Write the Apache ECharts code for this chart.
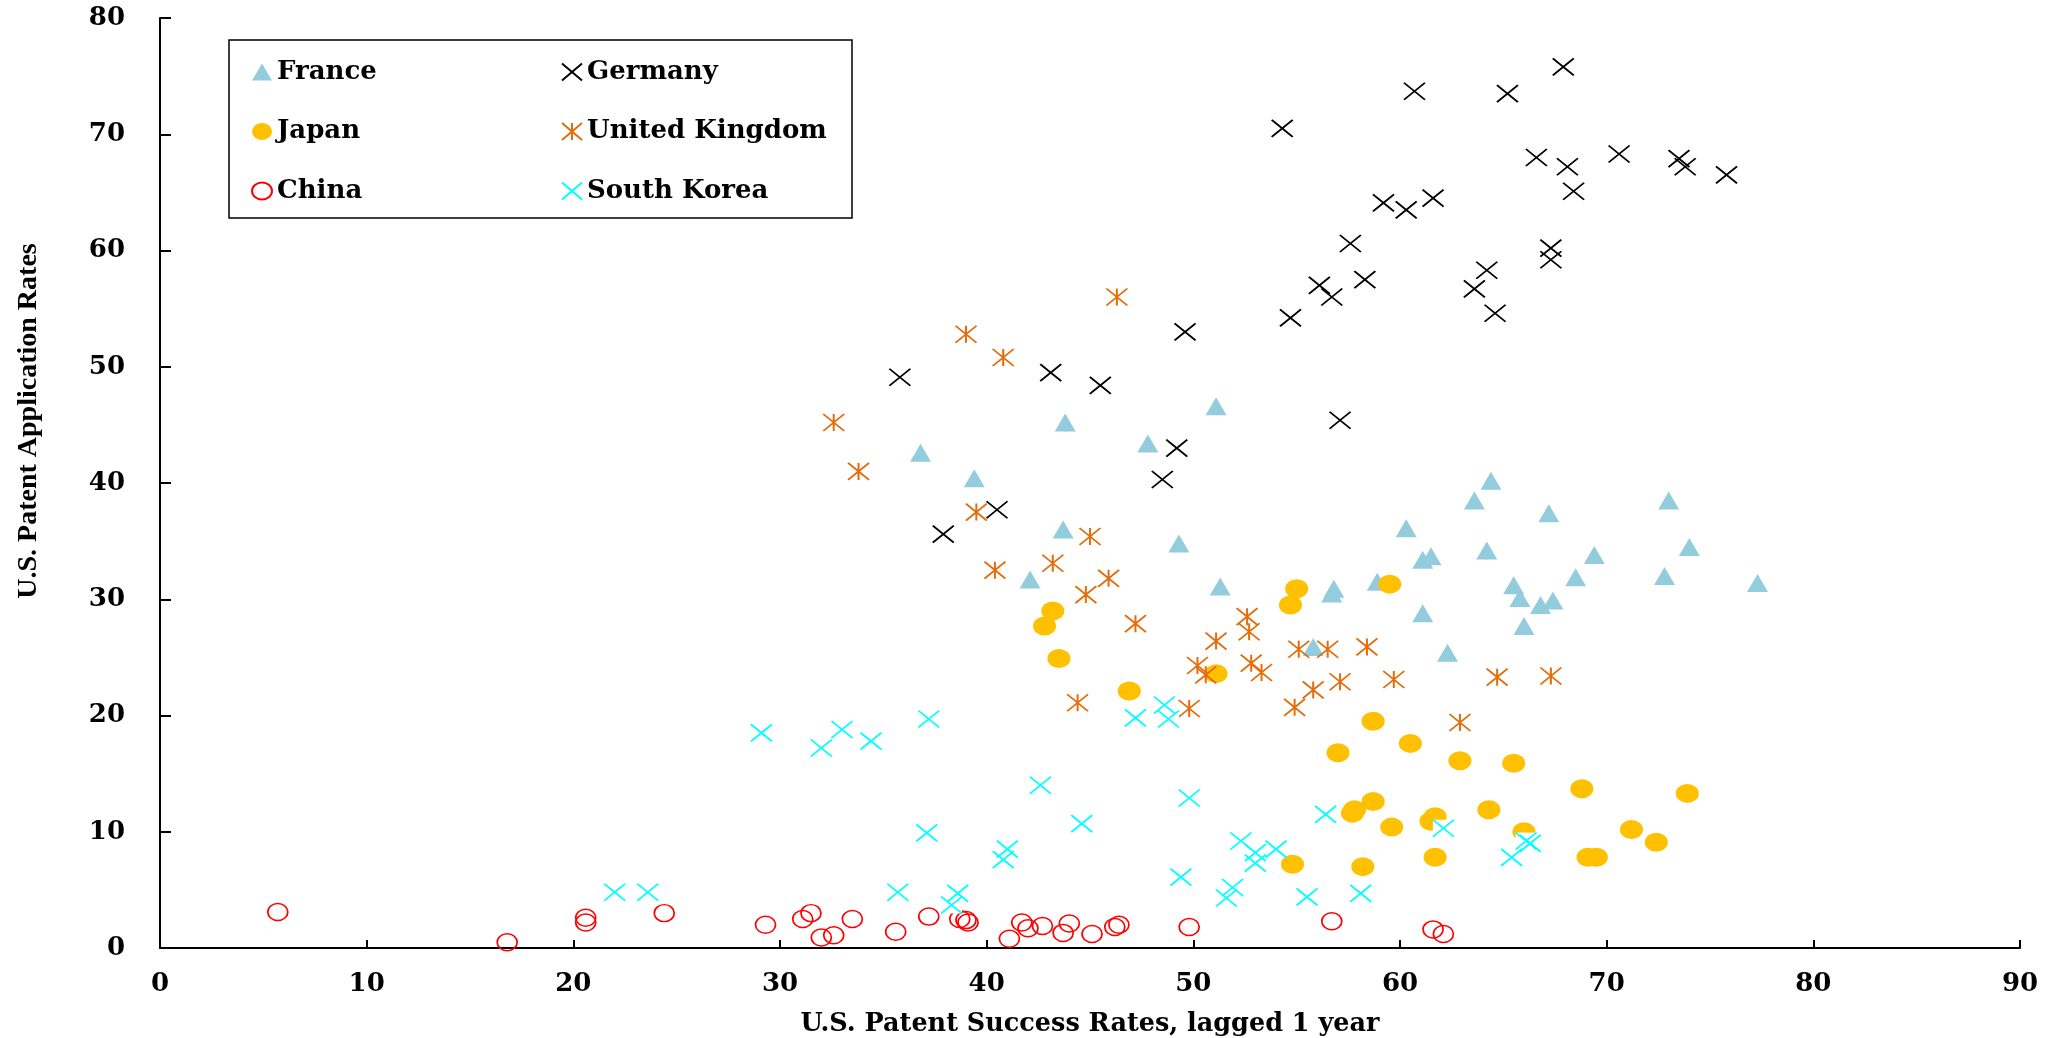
<!DOCTYPE html>
<html>
<head>
<meta charset="utf-8">
<title>U.S. Patent Application vs Success Rates</title>
<script src="https://cdn.jsdelivr.net/npm/echarts@6/dist/echarts.min.js"></script>
<style>
  html, body { margin: 0; padding: 0; background: #fff; }
  #chart { width: 2050px; height: 1038px; }
</style>
</head>
<body>
<div id="chart"></div>
<script>
// Axis ticks
const xTicks = { min: 0, max: 90, step: 10 };
const yTicks = { min: 0, max: 80, step: 10 };

// [success rate lagged 1 year, application rate] per country
const france = [
  [43.8, 45.2], [36.8, 42.6], [39.4, 40.4], [43.7, 36.0], [42.1, 31.7],
  [51.1, 46.6], [47.8, 43.4], [49.3, 34.8], [51.3, 31.1], [60.3, 36.1],
  [61.1, 33.4], [61.5, 33.7], [56.8, 30.9], [56.7, 30.5], [58.9, 31.5],
  [61.1, 28.8], [55.8, 25.9], [62.3, 25.4], [64.4, 40.2], [63.6, 38.5],
  [67.2, 37.4], [73.0, 38.5], [64.2, 34.2], [69.4, 33.8], [74.0, 34.5],
  [68.5, 31.9], [72.8, 32.0], [77.3, 31.4], [65.5, 31.2], [65.8, 30.1],
  [66.8, 29.5], [67.4, 29.9], [66.0, 27.7]
];
const germany = [
  [60.7, 73.7], [54.3, 70.5], [59.2, 64.1], [60.3, 63.5], [61.6, 64.5],
  [57.6, 60.6], [56.1, 57.0], [56.7, 56.0], [58.3, 57.5], [54.7, 54.2],
  [49.6, 53.0], [67.9, 75.8], [65.2, 73.5], [66.6, 68.0], [68.1, 67.2],
  [68.4, 65.1], [70.6, 68.3], [73.5, 67.9], [73.8, 67.2], [75.8, 66.5],
  [67.3, 60.2], [67.3, 59.2], [64.2, 58.3], [63.6, 56.7], [64.6, 54.6],
  [35.8, 49.1], [43.1, 49.5], [45.5, 48.4], [40.5, 37.7], [37.9, 35.6],
  [49.2, 43.0], [48.5, 40.3], [57.1, 45.4]
];
const japan = [
  [43.2, 29.0], [42.8, 27.7], [43.5, 24.9], [51.1, 23.6], [46.9, 22.1],
  [58.7, 19.5], [57.0, 16.8], [60.5, 17.6], [62.9, 16.1], [58.7, 12.6],
  [57.8, 11.9], [57.7, 11.6], [59.6, 10.4], [61.7, 11.3], [61.5, 10.9],
  [61.7, 7.8], [54.8, 7.2], [58.2, 7.0], [65.5, 15.9], [68.8, 13.7],
  [73.9, 13.3], [64.3, 11.9], [66.0, 10.0], [71.2, 10.2], [72.4, 9.1],
  [69.1, 7.8], [69.5, 7.8], [55.0, 30.9], [54.7, 29.5], [59.5, 31.3]
];
const unitedKingdom = [
  [39.0, 52.8], [40.8, 50.8], [46.3, 56.0], [32.6, 45.2], [33.8, 41.0],
  [39.5, 37.5], [45.0, 35.4], [43.2, 33.1], [40.4, 32.5], [44.8, 30.4],
  [45.9, 31.8], [47.2, 27.9], [52.6, 28.5], [52.7, 27.2], [51.1, 26.4],
  [55.1, 25.7], [56.5, 25.7], [58.4, 25.9], [50.2, 24.3], [50.6, 23.5],
  [52.8, 24.5], [53.3, 23.7], [55.8, 22.2], [54.9, 20.7], [57.1, 22.9],
  [59.7, 23.1], [49.8, 20.6], [62.9, 19.4], [44.4, 21.1], [64.7, 23.3],
  [67.3, 23.4]
];
const china = [
  [5.7, 3.1], [16.8, 0.5], [20.6, 2.6], [20.6, 2.2], [24.4, 3.0],
  [29.3, 2.0], [31.1, 2.5], [31.5, 3.0], [32.0, 0.9], [32.6, 1.1],
  [33.5, 2.5], [35.6, 1.4], [37.2, 2.7], [38.7, 2.5], [39.0, 2.4],
  [39.1, 2.2], [41.1, 0.8], [41.7, 2.2], [42.0, 1.7], [42.7, 1.9],
  [43.7, 1.3], [44.0, 2.1], [45.1, 1.2], [46.2, 1.8], [46.4, 2.0],
  [49.8, 1.8], [56.7, 2.3], [61.6, 1.6], [62.1, 1.2]
];
const southKorea = [
  [22.0, 4.8], [23.6, 4.8], [29.1, 18.5], [32.0, 17.2], [33.0, 18.8],
  [34.4, 17.8], [37.2, 19.7], [35.7, 4.8], [37.1, 9.9], [38.6, 4.7],
  [38.3, 3.7], [42.6, 14.0], [41.0, 8.5], [40.8, 7.6], [44.6, 10.7],
  [47.2, 19.8], [48.6, 20.9], [48.8, 19.7], [49.8, 12.9], [49.4, 6.1],
  [52.3, 9.2], [53.0, 8.2], [53.0, 7.3], [54.0, 8.5], [51.9, 5.2],
  [51.6, 4.3], [55.5, 4.4], [56.4, 11.5], [58.1, 4.7], [62.1, 10.3],
  [66.1, 9.2], [66.3, 9.0], [65.4, 7.8]
];

const xTitle = 'U.S. Patent Success Rates, lagged 1 year';
const yTitle = 'U.S. Patent Application Rates';

// Marker outlines
const crossPath = 'path://M0,0L20,17M20,0L0,17';
const starPath = 'path://M0,0L20,17M20,0L0,17M10,0L10,17';
const ellipsePath = 'path://M0,8.5A10,8.5,0,1,1,20,8.5A10,8.5,0,1,1,0,8.5Z';

const wideFont = 'DejaVu Serif';
const labelStyle = { fontFamily: wideFont, fontWeight: 'bold', fontSize: 26, color: '#000' };

const chart = echarts.init(document.getElementById('chart'), null, { renderer: 'canvas' });

const legendCommon = {
  orient: 'vertical',
  padding: 0,
  itemWidth: 20,
  itemHeight: 17,
  itemGap: 33.5,
  textStyle: { fontFamily: wideFont, fontWeight: 'bold', fontSize: 26, color: '#000' },
  selectedMode: false
};

chart.setOption({
  animation: false,
  backgroundColor: '#ffffff',
  grid: { left: 160, right: 30, top: 18, bottom: 90, outerBoundsMode: 'none', containLabel: false },
  xAxis: {
    type: 'value',
    min: xTicks.min, max: xTicks.max, interval: xTicks.step,
    name: xTitle,
    nameLocation: 'middle',
    nameGap: 63,
    nameTextStyle: { fontFamily: wideFont, fontWeight: 'bold', fontSize: 25.5, color: '#000' },
    axisLine: { show: true, onZero: false, lineStyle: { color: '#000', width: 2 } },
    axisTick: { show: true, inside: true, length: 8, lineStyle: { color: '#000', width: 2 } },
    axisLabel: Object.assign({ margin: 23 }, labelStyle),
    splitLine: { show: false }
  },
  yAxis: {
    type: 'value',
    min: yTicks.min, max: yTicks.max, interval: yTicks.step,
    axisLine: { show: true, onZero: false, lineStyle: { color: '#000', width: 2 } },
    axisTick: { show: true, inside: true, length: 11, lineStyle: { color: '#000', width: 2 } },
    axisLabel: Object.assign({ margin: 35 }, labelStyle),
    splitLine: { show: false }
  },
  legend: [
    Object.assign({ left: 251, top: 59, data: ['France', 'Japan', 'China'] }, legendCommon),
    Object.assign({ left: 561, top: 59, data: ['Germany', 'United Kingdom', 'South Korea'] }, legendCommon)
  ],
  graphic: [
    {
      type: 'rect',
      z: 0,
      shape: { x: 229, y: 40, width: 623, height: 178 },
      style: { fill: '#ffffff', stroke: '#000', lineWidth: 1.5 }
    },
    {
      type: 'text',
      x: 29, y: 421,
      rotation: Math.PI / 2,
      style: {
        text: yTitle,
        font: 'bold 28px "Liberation Serif"',
        fill: '#000',
        align: 'center',
        verticalAlign: 'middle'
      }
    }
  ],
  series: [
    {
      name: 'France', type: 'scatter', data: france,
      symbol: 'triangle', symbolSize: [21, 18],
      itemStyle: { color: '#93CDDD', opacity: 1 }
    },
    {
      name: 'Germany', type: 'scatter', data: germany,
      symbol: crossPath, symbolSize: [21, 17],
      itemStyle: { color: 'rgba(0,0,0,0)', borderColor: '#000000', borderWidth: 1.8, opacity: 1 }
    },
    {
      name: 'Japan', type: 'scatter', data: japan,
      symbol: ellipsePath, symbolSize: [23, 19],
      itemStyle: { color: '#FFC000', opacity: 1 }
    },
    {
      name: 'United Kingdom', type: 'scatter', data: unitedKingdom,
      symbol: starPath, symbolSize: [21, 17],
      itemStyle: { color: 'rgba(0,0,0,0)', borderColor: '#E46C0A', borderWidth: 1.8, opacity: 1 }
    },
    {
      name: 'China', type: 'scatter', data: china,
      symbol: ellipsePath, symbolSize: [20, 17],
      itemStyle: { color: 'rgba(0,0,0,0)', borderColor: '#FF0000', borderWidth: 1.6, opacity: 1 }
    },
    {
      // opaque square behind each South Korea cross
      name: 'South Korea backing', type: 'scatter', data: southKorea,
      symbol: 'rect', symbolSize: [21, 17],
      itemStyle: { color: '#ffffff', opacity: 1 },
      silent: true
    },
    {
      name: 'South Korea', type: 'scatter', data: southKorea,
      symbol: crossPath, symbolSize: [21, 17],
      itemStyle: { color: 'rgba(0,0,0,0)', borderColor: '#00FFFF', borderWidth: 1.8, opacity: 1 }
    }
  ]
});
</script>
</body>
</html>
